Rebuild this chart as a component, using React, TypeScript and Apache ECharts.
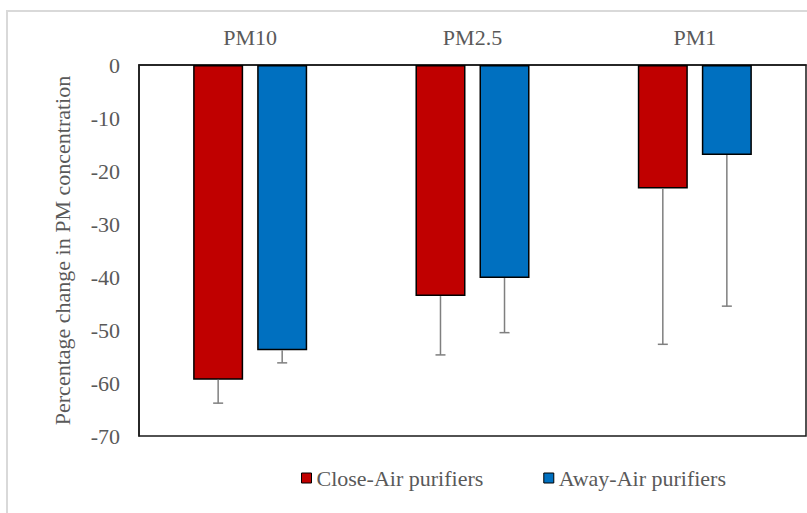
import React, { useEffect, useRef } from "react";
import * as echarts from "echarts";

const categories = ["PM10", "PM2.5", "PM1"];
const seriesNames = ["Close-Air purifiers", "Away-Air purifiers"];
const closeValues = [-59.4, -43.6, -23.3];
const awayValues = [-53.8, -40.2, -17.0];
const closeErrLow = [-63.8, -54.7, -52.7];
const awayErrLow = [-56.2, -50.5, -45.5];
const yTicks = { min: -70, max: 0, interval: 10 };

const FONT = "'Liberation Serif', 'Times New Roman', serif";
const TEXT = "#595959";

export default function App() {
  const ref = useRef<HTMLDivElement>(null);
  useEffect(() => {
    if (!ref.current) return;
    const chart = echarts.init(ref.current, null, { renderer: "svg" });
    const barFrac = 0.225;
    const gapFrac = 0.28;
    const errSeries = (vals: number[], lows: number[], sign: number, name: string) => ({
      type: "custom",
      name: name + "-err",
      z: 5,
      silent: true,
      data: categories.map((c, i) => [i, vals[i], lows[i]]),
      renderItem: (params: any, api: any) => {
        const idx = api.value(0);
        const top = api.coord([idx, api.value(1)]);
        const bot = api.coord([idx, api.value(2)]);
        const band = api.size([1, 0])[0];
        const bw = band * barFrac;
        const off = sign * (bw + bw * gapFrac) / 2;
        const x = top[0] + off;
        const style = { stroke: "#7f7f7f", lineWidth: 1.5 };
        return {
          type: "group",
          children: [
            { type: "line", shape: { x1: x, y1: top[1], x2: x, y2: bot[1] }, style },
            { type: "line", shape: { x1: x - 5, y1: bot[1], x2: x + 5, y2: bot[1] }, style },
          ],
        };
      },
    });
    chart.setOption({
      animation: false,
      backgroundColor: "#fff",
      textStyle: { fontFamily: FONT },
      graphic: [
        {
          type: "rect",
          shape: { x: 7, y: 11, width: 900, height: 600 },
          style: { fill: "none", stroke: "#d9d9d9", lineWidth: 2 },
          silent: true,
        },
      ],
      grid: {
        left: 139,
        right: 1,
        top: 65,
        bottom: 77,
        show: true,
        borderColor: "#1a1a1a",
        borderWidth: 1.5,
        containLabel: false,
      },
      legend: {
        data: seriesNames,
        left: 296,
        top: 462,
        itemWidth: 10,
        itemHeight: 10,
        itemGap: 60,
        icon: "rect",
        itemStyle: { borderColor: "#000", borderWidth: 1 },
        textStyle: { fontFamily: FONT, fontSize: 22, color: TEXT, padding: [0, 0, 0, 0] },
      },
      xAxis: {
        type: "category",
        data: categories,
        position: "top",
        axisLine: { show: true, lineStyle: { color: "#1a1a1a", width: 1.5 } },
        axisTick: { show: false },
        axisLabel: { fontFamily: FONT, fontSize: 22, color: TEXT, margin: 17 },
      },
      yAxis: {
        type: "value",
        min: yTicks.min,
        max: yTicks.max,
        interval: yTicks.interval,
        name: "Percentage change in PM concentration",
        nameLocation: "middle",
        nameGap: 66,
        nameTextStyle: { fontFamily: FONT, fontSize: 22, color: TEXT },
        axisLine: { show: true, lineStyle: { color: "#1a1a1a", width: 1.5 } },
        axisTick: { show: false },
        splitLine: { show: false },
        axisLabel: { fontFamily: FONT, fontSize: 22, color: TEXT, margin: 19 },
      },
      series: [
        {
          type: "bar",
          name: seriesNames[0],
          data: closeValues,
          barWidth: "22.5%",
          barGap: "28%",
          itemStyle: { color: "#c00000", borderColor: "#000", borderWidth: 1.5 },
        },
        {
          type: "bar",
          name: seriesNames[1],
          data: awayValues,
          barWidth: "22.5%",
          barGap: "28%",
          itemStyle: { color: "#0070c0", borderColor: "#000", borderWidth: 1.5 },
        },
        errSeries(closeValues, closeErrLow, -1, seriesNames[0]),
        errSeries(awayValues, awayErrLow, 1, seriesNames[1]),
      ],
    });
    return () => chart.dispose();
  }, []);
  return (
    <div
      ref={ref}
      style={{ position: "fixed", left: 0, top: 0, width: 807, height: 513 }}
    />
  );
}
